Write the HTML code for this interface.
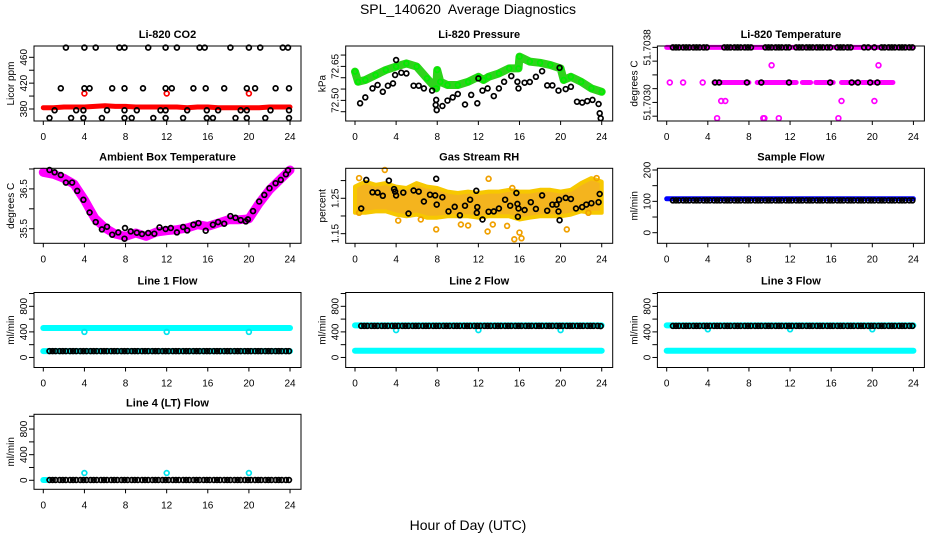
<!DOCTYPE html>
<html><head><meta charset="utf-8"><title>SPL_140620 Average Diagnostics</title>
<style>
html,body{margin:0;padding:0;background:#fff;}
svg{display:block;font-family:"Liberation Sans",Arial,sans-serif;}
</style></head>
<body>
<svg id="chart" width="936" height="540" viewBox="0 0 936 540" xmlns="http://www.w3.org/2000/svg">
<rect x="0" y="0" width="936" height="540" fill="#fff"/>
<text x="468" y="14" text-anchor="middle" font-size="14">SPL_140620&#160; Average Diagnostics</text>
<text x="468" y="530" text-anchor="middle" font-size="14">Hour of Day (UTC)</text>
</svg>
<script>
// ---------- data ----------
const hourTicks = [0,4,8,12,16,20,24];
const hh = [0,1,2,3,4,5,6,7,8,9,10,11,12,13,14,15,16,17,18,19,20,21,22,23,24];
const hrs = [0.6,0.9,1.2,1.6,1.9,2.2,2.6,2.9,3.2,3.6,3.9,4.2,4.6,4.9,5.2,5.6,5.9,6.2,6.6,6.9,7.2,7.6,7.9,8.2,8.6,8.9,9.2,9.6,9.9,10.2,10.6,10.9,11.2,11.6,11.9,12.2,12.6,12.9,13.2,13.6,13.9,14.2,14.6,14.9,15.2,15.6,15.9,16.2,16.6,16.9,17.2,17.6,17.9,18.2,18.6,18.9,19.2,19.6,19.9,20.2,20.6,20.9,21.2,21.6,21.9,22.2,22.6,22.9,23.2,23.6,23.9];
const spikeHours = [4,12,20];

// CO2
const co2Red = [382,382,383,383,383,384,385,384,384,383,383,383,383,383,382,383,383,382,382,382,382,382,383,383,383];
const co2RedSpike = [404,404,404];
const co2BlackX = [2.2,4,5.1,7.4,7.9,10.2,11.9,13,15.2,15.7,18.2,20,21.1,23.3,23.8, 1.7,4,4.5,6.7,7.9,9.7,11.9,12.5,14.6,15.8,17.6,19.8,20.6,22.6,23.9, 1.1,3.2,3.9,6.2,7.9,9.1,11.4,11.9,14,15.9,17,19.2,19.8,22.1,23.9, 0.6,2.7,3.9,5.7,7.9,8.6,10.7,11.9,13.6,15.9,16.5,18.7,19.8,21.6,23.9];
const co2BlackY = [475,475,475,475,475,475,475,475,475,475,475,475,475,475,475, 412,412,412,412,412,412,412,412,412,412,412,412,412,412,412, 378,378,378,378,378,378,378,378,378,378,378,378,378,378,378, 366,366,366,366,366,366,366,366,366,366,366,366,366,366,366];

// Pressure
const presGreenX = [0,0.3,1,2,3,4,5,6,7,7.9,8,8.3,9,10,11,12,12.5,13,14,15,15.9,16,17,18,19,20,20.3,21,22,23,24];
const presGreenY = [72.627,72.582,72.590,72.612,72.634,72.649,72.663,72.649,72.597,72.553,72.634,72.582,72.568,72.568,72.582,72.604,72.590,72.604,72.619,72.641,72.641,72.693,72.671,72.666,72.656,72.641,72.590,72.604,72.582,72.553,72.538];
const presBlackX = [0.5,1,1.7,2.2,2.7,3.2,3.7,3.9,4,4.5,5,5.7,6.2,6.7,7.5,7.85,7.9,7.95,8.5,9,9.5,10,10.7,11.3,11.9,12,12.4,12.9,13.5,14,14.5,15.2,15.8,15.9,16.5,17,17.6,18.2,18.7,19.2,19.8,19.9,20.5,21,21.6,22.1,22.6,23.1,23.7,23.8,23.9];
const presBlackY = [72.487,72.513,72.553,72.568,72.538,72.565,72.575,72.612,72.678,72.622,72.619,72.565,72.565,72.553,72.543,72.480,72.502,72.457,72.475,72.499,72.513,72.528,72.482,72.524,72.487,72.597,72.543,72.553,72.519,72.553,72.582,72.607,72.582,72.553,72.578,72.581,72.604,72.629,72.566,72.566,72.543,72.644,72.550,72.560,72.494,72.490,72.497,72.502,72.484,72.443,72.421];

// Li-820 Temperature
const tempTopVal = [51.7038,51.7038];
const tempTopX = [0,24];
const tempMidStart = [4.6,8.8,13.2,14.5,17.0,19.0];
const tempMidEnd = [8.0,12.6,14.0,16.2,18.5,22.0];
const tempMidVal = [51.70329,51.70329,51.70329,51.70329,51.70329,51.70329];
const tempMagX = [0.3,1.6,3.5,5.3,5.7,4.9,9.4,9.5,10.9,16.7,17,20.2,10.2,20.6];
const tempMagY = [51.70329,51.70329,51.70329,51.70302,51.70302,51.70277,51.70277,51.70277,51.70277,51.70277,51.70302,51.70302,51.70354,51.70354];
const tempBlackTopX = [0.6,0.9,1.2,1.6,1.9,2.2,2.6,2.9,3.2,3.6,3.9,5.6,5.9,6.2,6.6,6.9,7.2,7.6,7.9,8.2,9.6,9.9,10.2,10.6,10.9,11.2,11.6,11.9,12.6,12.9,13.2,13.6,13.9,14.2,14.6,14.9,15.2,15.6,15.9,16.6,16.9,17.2,17.6,17.9,19.2,19.6,20.2,20.9,21.2,21.6,21.9,22.2,22.6,22.9,23.2,23.6,23.9];
const tempBlackMidX = [4.7,5.1,7.8,9.2,11.9,15.9,18.0,18.6,19.8,20.5];

// Ambient Box Temperature
const ambMag = [36.917,36.867,36.767,36.617,36.225,35.767,35.517,35.367,35.308,35.392,35.308,35.417,35.45,35.475,35.517,35.6,35.558,35.642,35.725,35.725,35.75,36.142,36.475,36.725,36.975];
const ambBlackX = [0.6,1.1,1.7,2.2,2.8,3.3,3.9,4.5,5.1,5.7,6.2,6.7,7.3,7.9,7.95,8.5,9.1,9.6,10.2,10.8,11.3,11.9,12.4,13,13.6,14,14.6,15.1,15.8,16.5,17,17.6,18.2,18.7,19.2,19.7,19.9,20.4,21,21.5,22,22.6,23.1,23.6,23.8];
const ambBlackY = [36.975,36.917,36.85,36.658,36.658,36.45,36.225,35.908,35.667,35.483,35.55,35.35,35.408,35.25,35.517,35.433,35.4,35.367,35.392,35.375,35.533,35.492,35.517,35.408,35.542,35.458,35.6,35.642,35.45,35.6,35.667,35.625,35.817,35.775,35.717,35.683,35.733,35.942,36.183,36.35,36.517,36.642,36.725,36.867,36.967];

// Gas Stream RH
const rhUpper = [1.283,1.297,1.288,1.293,1.283,1.279,1.293,1.283,1.279,1.269,1.265,1.269,1.265,1.269,1.269,1.274,1.269,1.269,1.274,1.274,1.269,1.274,1.293,1.307,1.297];
const rhLower = [1.209,1.209,1.213,1.213,1.204,1.199,1.204,1.195,1.195,1.199,1.199,1.199,1.195,1.199,1.199,1.199,1.190,1.195,1.199,1.199,1.199,1.204,1.213,1.209,1.209];
const rhOutX = [0.4,2.9,13,15.3,16.2,15.5,16,12.9,7.9,14.8,20.6,10.3,11,4.2,6.4,13.4,0.4,22.7,23.5];
const rhOutY = [1.307,1.330,1.305,1.279,1.137,1.134,1.153,1.156,1.162,1.172,1.162,1.176,1.173,1.187,1.190,1.176,1.209,1.209,1.307];
const rhBlackX = [0.6,1.1,1.7,2.2,2.7,3.3,3.8,3.9,4,4.7,5.2,5.7,6.2,6.7,7.3,7.8,7.9,7.95,8.5,9.1,9.7,10.2,10.7,11.2,11.8,11.9,11.85,12.4,13,13.5,14,14.6,15.1,15.7,15.8,15.9,15.85,16.5,17.1,17.6,18.2,18.7,19.2,19.6,19.8,19.85,19.9,20.5,21,21.5,22.1,22.5,23,23.7,23.8];
const rhBlackY = [1.221,1.302,1.267,1.266,1.257,1.300,1.276,1.269,1.258,1.266,1.207,1.272,1.269,1.241,1.260,1.258,1.305,1.232,1.253,1.213,1.226,1.202,1.229,1.246,1.271,1.225,1.209,1.190,1.212,1.213,1.221,1.246,1.229,1.265,1.234,1.221,1.198,1.217,1.239,1.220,1.258,1.215,1.232,1.232,1.213,1.246,1.188,1.251,1.248,1.221,1.225,1.232,1.236,1.239,1.262];

// Sample Flow
const sampleBlue = [108,108,108,108,108,108,108,108,108,108,108,108,108,108,108,108,108,108,108,108,108,108,108,108,108];
const sampleBlack = [103,103,103,103,103,103,103,103,103,103, 103,103,103,103,103,103,103,103,103,103, 103,103,103,103,103,103,103,103,103,103, 103,103,103,103,103,103,103,103,103,103, 103,103,103,103,103,103,103,103,103,103, 103,103,103,103,103,103,103,103,103,103, 103,103,103,103,103,103,103,103,103,103, 103];

// Line flows
const line1CyanHigh = [460,460,460,460,460,460,460,460,460,460,460,460,460,460,460,460,460,460,460,460,460,460,460,460,460];
const line1CyanLow = [100,100,100,100,100,100,100,100,100,100,100,100,100,100,100,100,100,100,100,100,100,100,100,100,100];
const line1Spike = [400,400,400];
const line1Black = [100,100,100,100,100,100,100,100,100,100, 100,100,100,100,100,100,100,100,100,100, 100,100,100,100,100,100,100,100,100,100, 100,100,100,100,100,100,100,100,100,100, 100,100,100,100,100,100,100,100,100,100, 100,100,100,100,100,100,100,100,100,100, 100,100,100,100,100,100,100,100,100,100, 100];

const line2CyanHigh = [502,502,502,502,502,502,502,502,502,502,502,502,502,502,502,502,502,502,502,502,502,502,502,502,502];
const line2CyanLow = [104,104,104,104,104,104,104,104,104,104,104,104,104,104,104,104,104,104,104,104,104,104,104,104,104];
const line2Spike = [428,428,428];
const line2Black = [494,494,494,494,494,494,494,494,494,494, 494,494,494,494,494,494,494,494,494,494, 494,494,494,494,494,494,494,494,494,494, 494,494,494,494,494,494,494,494,494,494, 494,494,494,494,494,494,494,494,494,494, 494,494,494,494,494,494,494,494,494,494, 494,494,494,494,494,494,494,494,494,494, 490];

const line3CyanHigh = [502,502,502,502,502,502,502,502,502,502,502,502,502,502,502,502,502,502,502,502,502,502,502,502,502];
const line3CyanLow = [104,104,104,104,104,104,104,104,104,104,104,104,104,104,104,104,104,104,104,104,104,104,104,104,104];
const line3Spike = [440,440,440];
const line3Black = [494,494,494,494,494,494,494,494,494,494, 494,494,494,494,494,494,494,494,494,494, 494,494,494,494,494,494,494,494,494,494, 494,494,494,494,494,494,494,494,494,494, 494,494,494,494,494,494,494,494,494,494, 494,494,494,494,494,494,494,494,494,494, 494,494,494,494,494,494,494,494,494,494, 494];

const line4CyanX = [0,0.3];
const line4Cyan = [5,5];
const line4Spike = [114,114,114];
const line4Black = [5,5,5,5,5,5,5,5,5,5, 5,5,5,5,5,5,5,5,5,5, 5,5,5,5,5,5,5,5,5,5, 5,5,5,5,5,5,5,5,5,5, 5,5,5,5,5,5,5,5,5,5, 5,5,5,5,5,5,5,5,5,5, 5,5,5,5,5,5,5,5,5,5, 5];

// tick definitions
const co2Ticks = [380,400,420,440,460];
const co2Labels = ["380","420","460"];
const presTicks = [72.45,72.50,72.55,72.60,72.65,72.70];
const presLabels = ["72.50","72.65"];
const tempTicks = [51.7028,51.7030,51.7032,51.7034,51.7036,51.7038];
const tempLabels = ["51.7030","51.7038"];
const ambTicks = [35.5,36.0,36.5,37.0];
const ambLabels = ["35.5","36.5"];
const rhTicks = [1.15,1.20,1.25,1.30];
const rhLabels = ["1.15","1.25"];
const sampleTicks = [0,50,100,150,200];
const sampleLabels = ["0","100","200"];
const flowTicks = [0,200,400,600,800,1000];
const flowLabels = ["0","400","800"];

// ---------- drawing ----------
const NS = 'http://www.w3.org/2000/svg';
const svg = document.getElementById('chart');
const COLS = [34, 345.7, 657.4], ROWS = [46, 168.3, 292.5, 414.3], PW = 267, PH = 75;

function mk(tag, attrs, parent, name) {
  const el = document.createElementNS(NS, tag);
  for (const k in attrs) el.setAttribute(k, attrs[k]);
  
  
  (parent || svg).appendChild(el);
  return el;
}

function makePanel(key, col, row, title, ylab, ymin, ymax, ticks, labels) {
  const left = COLS[col], top = ROWS[row];
  const g = mk('g', {}, svg, key + '-panel');
  const p = {g, left, top, key,
    x: h => left + 9.3 + h * 10.28,
    y: v => top + PH * (ymax - v) / (ymax - ymin)};
  const t = mk('text', {x: left + PW / 2, y: top - 8, 'text-anchor': 'middle', 'font-size': 11, 'font-weight': 'bold'}, g, key + '-title');
  t.textContent = title;
  const yl = mk('text', {transform: `translate(${left - 20},${top + PH / 2}) rotate(-90)`, 'text-anchor': 'middle', 'font-size': 10}, g, key + '-y-axis-title');
  yl.textContent = ylab;
  const bottom = top + PH;
  hourTicks.forEach(h => {
    mk('line', {x1: p.x(h), x2: p.x(h), y1: bottom, y2: bottom + 4, stroke: '#000', 'stroke-width': 1}, g, key + '-x-tick');
    const tl = mk('text', {x: p.x(h), y: bottom + 19, 'text-anchor': 'middle', 'font-size': 10}, g, key + '-x-tick-label');
    tl.textContent = String(h);
  });
  ticks.forEach(v => {
    mk('line', {x1: left - 5, x2: left, y1: p.y(v), y2: p.y(v), stroke: '#000', 'stroke-width': 1}, g, key + '-y-tick');
  });
  labels.forEach(s => {
    const tl = mk('text', {transform: `translate(${left - 7},${p.y(parseFloat(s))}) rotate(-90)`, 'text-anchor': 'middle', 'font-size': 10}, g, key + '-y-tick-label');
    tl.textContent = s;
  });
  p.plot = mk('g', {}, g, key + '-plot-area');
  mk('rect', {x: left, y: top, width: PW, height: PH, fill: 'none', stroke: '#000', 'stroke-width': 1}, g, key + '-frame');
  return p;
}

function band(p, xs, ys, color, w, name) {
  const n = Math.min(xs.length, ys.length);
  let d = '';
  for (let i = 0; i < n; i++) d += (i ? 'L' : 'M') + p.x(xs[i]).toFixed(1) + ',' + p.y(ys[i]).toFixed(1);
  mk('path', {d, fill: 'none', stroke: color, 'stroke-width': w, 'stroke-linejoin': 'round', 'stroke-linecap': 'round'}, p.plot, name);
}
function pts(p, xs, ys, color, name, r, sw) {
  const n = Math.min(xs.length, ys.length);
  for (let i = 0; i < n; i++) {
    mk('circle', {cx: p.x(xs[i]).toFixed(1), cy: p.y(ys[i]).toFixed(1), r: r || 2.4, fill: 'none', stroke: color, 'stroke-width': sw || 1.7}, p.plot, name);
  }
}

// CO2
const pc = makePanel('co2', 0, 0, 'Li-820 CO2', 'Licor ppm', 361.4, 477.5, co2Ticks, co2Labels);
band(pc, hh, co2Red, '#ff0000', 5, 'co2-red-series');
pts(pc, spikeHours, co2RedSpike, '#ff0000', 'co2-red-point');
pts(pc, co2BlackX, co2BlackY, '#000', 'co2-black-point');

// Pressure
const pp = makePanel('pressure', 1, 0, 'Li-820 Pressure', 'kPa', 72.409, 72.740, presTicks, presLabels);
band(pp, presGreenX, presGreenY, '#2fd21c', 8, 'pressure-green-series');
pts(pp, presGreenX, presGreenY, '#00ee00', 'pressure-green-point');
pts(pp, presBlackX, presBlackY, '#000', 'pressure-black-point');

// Li-820 Temperature
const pt = makePanel('licor-temp', 2, 0, 'Li-820 Temperature', 'degrees C', 51.70273, 51.70382, tempTicks, tempLabels);
band(pt, tempTopX, tempTopVal, '#ff00ff', 5, 'licor-temp-magenta-top');
for (let i = 0; i < tempMidStart.length; i++) {
  band(pt, [tempMidStart[i], tempMidEnd[i]], [tempMidVal[i], tempMidVal[i]], '#ff00ff', 5, 'licor-temp-magenta-segment');
}
pts(pt, tempMagX, tempMagY, '#ff00ff', 'licor-temp-magenta-point');
pts(pt, tempBlackTopX, tempBlackTopX.map(() => tempTopVal[0]), '#000', 'licor-temp-black-point');
pts(pt, tempBlackMidX, tempBlackMidX.map(() => tempMidVal[0]), '#000', 'licor-temp-black-point');

// Ambient
const pa = makePanel('ambient-temp', 0, 1, 'Ambient Box Temperature', 'degrees C', 35.134, 37.017, ambTicks, ambLabels);
band(pa, hh, ambMag, '#ff00ff', 9, 'ambient-magenta-series');
pts(pa, ambBlackX, ambBlackY, '#000', 'ambient-black-point');

// RH
const pr = makePanel('gas-rh', 1, 1, 'Gas Stream RH', 'percent', 1.1228, 1.3347, rhTicks, rhLabels);
{
  let d = '';
  hh.forEach((h, i) => { d += (i ? 'L' : 'M') + pr.x(h).toFixed(1) + ',' + pr.y(rhUpper[i]).toFixed(1); });
  for (let i = hh.length - 1; i >= 0; i--) d += 'L' + pr.x(hh[i]).toFixed(1) + ',' + pr.y(rhLower[i]).toFixed(1);
  mk('path', {d: d + 'Z', fill: '#f4b41e', stroke: '#f7c800', 'stroke-width': 4, 'stroke-linejoin': 'round'}, pr.plot, 'rh-orange-cloud');
}
pts(pr, rhOutX, rhOutY, '#f0a000', 'rh-orange-point');
pts(pr, rhBlackX, rhBlackY, '#000', 'rh-black-point');

// Sample flow
const ps = makePanel('sample-flow', 2, 1, 'Sample Flow', 'ml/min', -33.8, 205.4, sampleTicks, sampleLabels);
band(ps, hh, sampleBlue, '#0000ff', 5, 'sample-blue-series');
pts(ps, hrs, sampleBlack, '#000', 'sample-black-point');

// Line 1
const l1 = makePanel('line1-flow', 0, 2, 'Line 1 Flow', 'ml/min', -157, 1016, flowTicks, flowLabels);
band(l1, hh, line1CyanHigh, '#00ffff', 6, 'line1-cyan-high');
band(l1, hh, line1CyanLow, '#00ffff', 6, 'line1-cyan-low');
pts(l1, spikeHours, line1Spike, '#00e5ee', 'line1-cyan-point');
pts(l1, hrs, line1Black, '#000', 'line1-black-point');

// Line 2
const l2 = makePanel('line2-flow', 1, 2, 'Line 2 Flow', 'ml/min', -157, 1016, flowTicks, flowLabels);
band(l2, hh, line2CyanHigh, '#00ffff', 6, 'line2-cyan-high');
band(l2, hh, line2CyanLow, '#00ffff', 6, 'line2-cyan-low');
pts(l2, spikeHours, line2Spike, '#00e5ee', 'line2-cyan-point');
pts(l2, hrs, line2Black, '#000', 'line2-black-point');

// Line 3
const l3 = makePanel('line3-flow', 2, 2, 'Line 3 Flow', 'ml/min', -157, 1016, flowTicks, flowLabels);
band(l3, hh, line3CyanHigh, '#00ffff', 6, 'line3-cyan-high');
band(l3, hh, line3CyanLow, '#00ffff', 6, 'line3-cyan-low');
pts(l3, spikeHours, line3Spike, '#00e5ee', 'line3-cyan-point');
pts(l3, hrs, line3Black, '#000', 'line3-black-point');

// Line 4
const l4 = makePanel('line4-flow', 0, 3, 'Line 4 (LT) Flow', 'ml/min', -141, 1031, flowTicks, flowLabels);
band(l4, line4CyanX, line4Cyan, '#00ffff', 6, 'line4-cyan-series');
pts(l4, spikeHours, line4Spike, '#00e5ee', 'line4-cyan-point');
pts(l4, hrs, line4Black, '#000', 'line4-black-point');
</script>
</body></html>
